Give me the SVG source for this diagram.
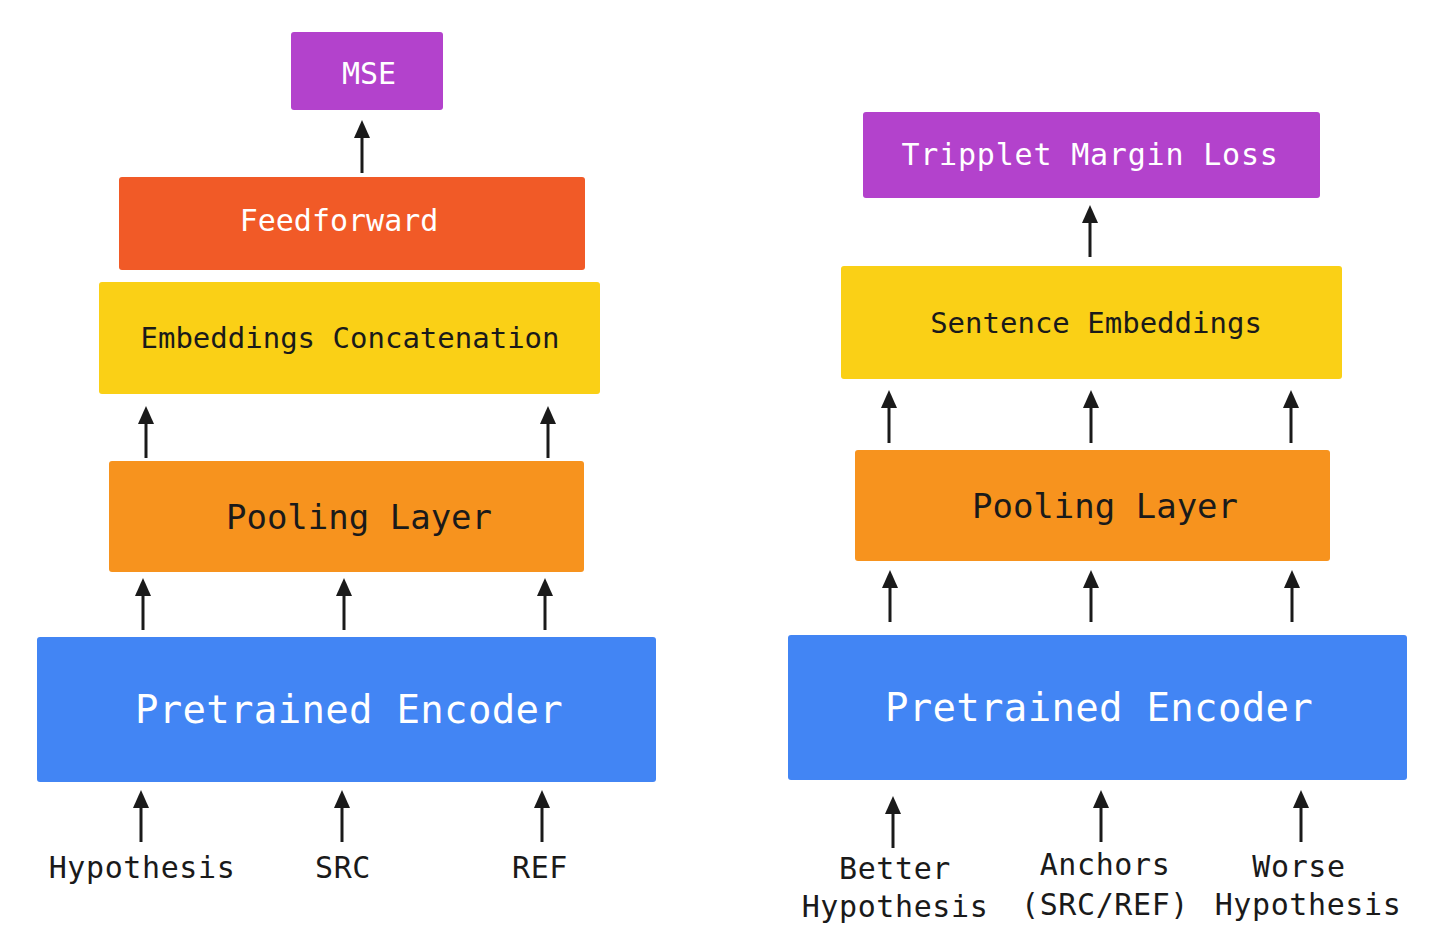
<svg xmlns="http://www.w3.org/2000/svg" width="1450" height="938" viewBox="0 0 1450 938">
<style>
text{font-family:"DejaVu Sans Mono","Liberation Mono",monospace;text-anchor:middle}
.w{fill:#ffffff}
.k{fill:#1a1a1a}
.s30{font-size:30px}
.s29{font-size:29px}
.s34{font-size:34px}
.s39{font-size:39px;letter-spacing:0.3px}
.lab{font-size:30px;letter-spacing:0.6px;fill:#1a1a1a}
.purple{fill:#B342CC}
.red{fill:#F15A27}
.yellow{fill:#FAD016}
.orange{fill:#F7931E}
.blue{fill:#4285F4}
.arr{stroke:#1a1a1a;stroke-width:3;fill:none;marker-end:url(#ah)}
</style>
<defs>
<marker id="ah" viewBox="0 0 18 16" markerWidth="18" markerHeight="16" markerUnits="userSpaceOnUse" refX="6" refY="8" orient="auto">
<path d="M0,0 L18,8 L0,16 z" fill="#1a1a1a"/>
</marker>
</defs>
<rect width="1450" height="938" fill="#ffffff"/>

<!-- Left diagram -->
<g id="mse"><rect class="purple" x="291" y="32" width="152" height="78" rx="3"/><text class="w s30" x="369" y="84">MSE</text></g>
<g id="feedforward"><rect class="red" x="119" y="177" width="466" height="93" rx="3"/><text class="w s30" x="339" y="231">Feedforward</text></g>
<g id="concat"><rect class="yellow" x="99" y="282" width="501" height="112" rx="3"/><text class="k s29" x="350" y="348">Embeddings Concatenation</text></g>
<g id="pooling-left"><rect class="orange" x="109" y="461" width="475" height="111" rx="3"/><text class="k s34" x="359" y="529">Pooling Layer</text></g>
<g id="encoder-left"><rect class="blue" x="37" y="637" width="619" height="145" rx="3"/><text class="w s39" x="349" y="723">Pretrained Encoder</text></g>
<g id="in-hyp"><text class="lab" x="142" y="878">Hypothesis</text></g>
<g id="in-src"><text class="lab" x="343" y="878">SRC</text></g>
<g id="in-ref"><text class="lab" x="540" y="878">REF</text></g>

<!-- Right diagram -->
<g id="triplet"><rect class="purple" x="863" y="112" width="457" height="86" rx="3"/><text class="w s30" x="1090" y="165" style="letter-spacing:0.8px">Tripplet Margin Loss</text></g>
<g id="sentemb"><rect class="yellow" x="841" y="266" width="501" height="113" rx="3"/><text class="k s29" x="1096" y="333">Sentence Embeddings</text></g>
<g id="pooling-right"><rect class="orange" x="855" y="450" width="475" height="111" rx="3"/><text class="k s34" x="1105" y="518">Pooling Layer</text></g>
<g id="encoder-right"><rect class="blue" x="788" y="635" width="619" height="145" rx="3"/><text class="w s39" x="1099" y="721">Pretrained Encoder</text></g>
<g id="in-better"><text class="lab" x="895" y="879">Better</text><text class="lab" x="895" y="917">Hypothesis</text></g>
<g id="in-anchor"><text class="lab" x="1105" y="875">Anchors</text><text class="lab" x="1105" y="915">(SRC/REF)</text></g>
<g id="in-worse"><text class="lab" x="1299" y="877">Worse</text><text class="lab" x="1308" y="915">Hypothesis</text></g>

<g id="connectors">
<line class="arr" x1="362" y1="173" x2="362" y2="132"/>
<line class="arr" x1="146" y1="458" x2="146" y2="418"/>
<line class="arr" x1="548" y1="458" x2="548" y2="418"/>
<line class="arr" x1="143" y1="630" x2="143" y2="590"/>
<line class="arr" x1="344" y1="630" x2="344" y2="590"/>
<line class="arr" x1="545" y1="630" x2="545" y2="590"/>
<line class="arr" x1="141" y1="842" x2="141" y2="802"/>
<line class="arr" x1="342" y1="842" x2="342" y2="802"/>
<line class="arr" x1="542" y1="842" x2="542" y2="802"/>

<line class="arr" x1="1090" y1="257" x2="1090" y2="217"/>
<line class="arr" x1="889" y1="443" x2="889" y2="402"/>
<line class="arr" x1="1091" y1="443" x2="1091" y2="402"/>
<line class="arr" x1="1291" y1="443" x2="1291" y2="402"/>
<line class="arr" x1="890" y1="622" x2="890" y2="582"/>
<line class="arr" x1="1091" y1="622" x2="1091" y2="582"/>
<line class="arr" x1="1292" y1="622" x2="1292" y2="582"/>
<line class="arr" x1="893" y1="848" x2="893" y2="808"/>
<line class="arr" x1="1101" y1="842" x2="1101" y2="802"/>
<line class="arr" x1="1301" y1="842" x2="1301" y2="802"/>
</g>
</svg>
